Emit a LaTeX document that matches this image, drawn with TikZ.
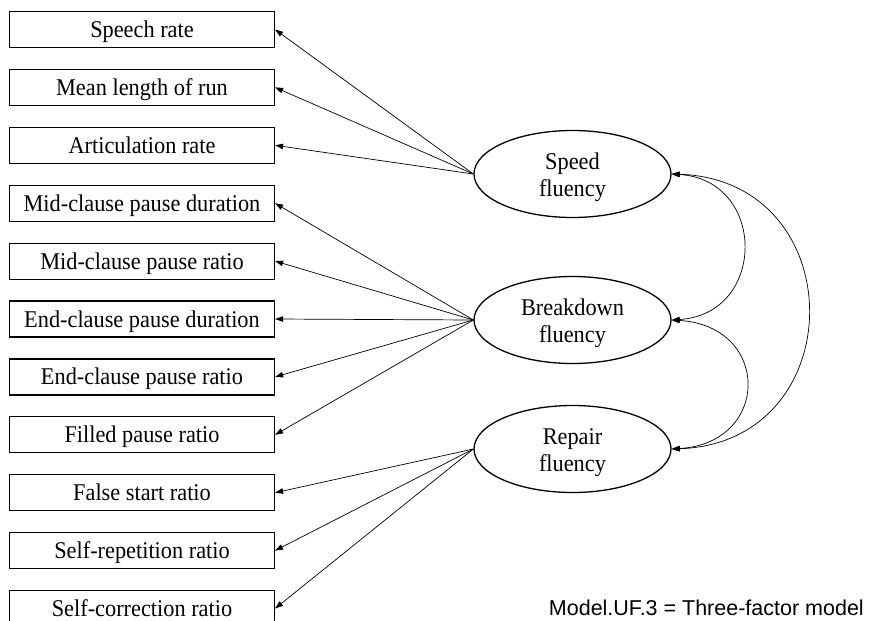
\documentclass[tikz,border=0pt]{standalone}
\usepackage{fontspec}
\setmainfont[FakeStretch=0.93]{Liberation Serif}
\newfontfamily\capfont{Liberation Sans}
\usetikzlibrary{arrows.meta,shapes.geometric}
% tall strut that lowers the two-line factor labels inside their ellipses
\newcommand\factorstrut{\rule{0pt}{23.5pt}}
\begin{document}
\begin{tikzpicture}[x=1pt,y=-1pt,
  indicator/.style={draw,line width=1.2pt,minimum width=265pt,minimum height=36pt,
    inner sep=0pt,text height=17.5pt,text depth=1.5pt,font=\fontsize{24}{26}\selectfont},
  factor/.style={draw,ellipse,line width=1.3pt,minimum width=197pt,minimum height=87pt,
    inner sep=0pt,align=center,font=\fontsize{24}{26.5}\selectfont},
  load/.style={line width=0.7pt,-{Triangle[length=8pt,width=5.5pt]}},
  cov/.style={line width=0.7pt,{Triangle[length=8pt,width=5.5pt]}-{Triangle[length=8pt,width=5.5pt]}}]
\useasboundingbox (0,0) rectangle (876,621);

% observed indicators
\node[indicator] (i1)  at (142,29.5)  {Speech rate};
\node[indicator] (i2)  at (142,87.4)  {Mean length of run};
\node[indicator] (i3)  at (142,145.3) {Articulation rate};
\node[indicator] (i4)  at (142,203.2) {Mid-clause pause duration};
\node[indicator] (i5)  at (142,261.1) {Mid-clause pause ratio};
\node[indicator] (i6)  at (142,319)   {End-clause pause duration};
\node[indicator] (i7)  at (142,376.9) {End-clause pause ratio};
\node[indicator] (i8)  at (142,434.8) {Filled pause ratio};
\node[indicator] (i9)  at (142,492.7) {False start ratio};
\node[indicator] (i10) at (142,550.6) {Self-repetition ratio};
\node[indicator] (i11) at (142,608.5) {Self-correction ratio};

% latent factors
\node[factor] (speed) at (572.5,174) {\factorstrut Speed\\fluency};
\node[factor] (break) at (572.5,320) {\factorstrut Breakdown\\fluency};
\node[factor] (repair) at (572.5,449) {\factorstrut Repair\\fluency};

% factor loadings
\foreach \i in {i1,i2,i3} \draw[load] (speed.west) -- (\i.east);
\foreach \i in {i4,i5,i6,i7,i8} \draw[load] (break.west) -- (\i.east);
\foreach \i in {i9,i10,i11} \draw[load] (repair.west) -- (\i.east);

% factor covariances
\draw[cov] (speed.east) .. controls (767,180) and (767,314) .. (break.east);
\draw[cov] (break.east) .. controls (771,326) and (771,443) .. (repair.east);
\draw[cov] (speed.east) .. controls (853,180) and (853,443) .. (repair.east);

\node[anchor=base east,inner sep=0pt,font=\capfont\fontsize{21.5}{25}\selectfont] (cap) at (864,615)
  {Model.UF.3 = Three-factor model};
\end{tikzpicture}
\end{document}
